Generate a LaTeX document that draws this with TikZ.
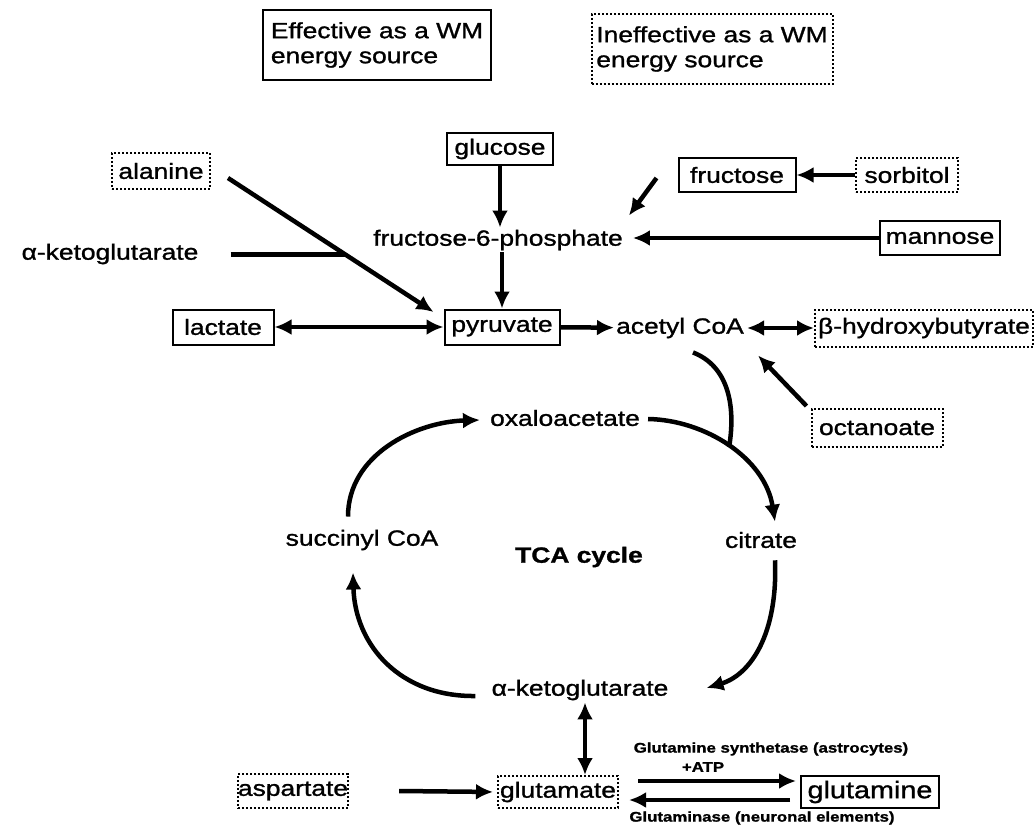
\documentclass[tikz,border=0pt]{standalone}
\usepackage{fontspec}
\setmainfont{Liberation Sans}[FakeStretch=1.2,FakeBold=1.2]
\usetikzlibrary{arrows.meta,calc}
\begin{document}
\begin{tikzpicture}[x=1pt,y=-1pt,
  txt/.style={font=\fontsize{22}{25}\selectfont, inner sep=2pt},
  sbox/.style={txt, draw, line width=2pt, inner sep=0pt},
  dbox/.style={sbox, dash pattern=on 2pt off 2pt},
  small/.style={font=\fontsize{14}{16}\selectfont\bfseries, inner sep=1pt},
  ln/.style={line width=4.5pt},
  arr/.style={line width=4.5pt, -{Latex[length=17pt,width=16pt]}},
  darr/.style={line width=4.5pt, {Latex[length=17pt,width=16pt]}-{Latex[length=17pt,width=16pt]}}]
\useasboundingbox (0,0) rectangle (1036,829);

% legend
\node[sbox, minimum width=228pt, minimum height=70pt, align=left] (leg1) at (377,45) {Effective as a WM\\energy source};
\node[dbox, minimum width=241pt, minimum height=70pt, align=left] (leg2) at (712,49) {Ineffective as a WM\\energy source};

% nodes
\node[sbox, minimum width=106pt, minimum height=32pt] (glucose) at (500,149) {glucose};
\node[dbox, minimum width=98pt, minimum height=36pt] (alanine) at (161,171) {alanine};
\node[sbox, minimum width=117pt, minimum height=34pt] (fructose) at (737,175) {fructose};
\node[dbox, minimum width=102pt, minimum height=34pt] (sorbitol) at (907,175) {sorbitol};
\node[txt] (f6p) at (498,240) {fructose-6-phosphate};
\node[sbox, minimum width=120pt, minimum height=33pt] (mannose) at (940,238) {mannose};
\node[txt] (akgL) at (110,254) {α-ketoglutarate};
\node[sbox, minimum width=101pt, minimum height=35pt] (lactate) at (223,327) {lactate};
\node[sbox, minimum width=115pt, minimum height=35pt] (pyruvate) at (502,327) {pyruvate};
\node[txt] (acetyl) at (680,328) {acetyl CoA};
\node[dbox, minimum width=218pt, minimum height=37pt] (bhb) at (924,328) {β-hydroxybutyrate};
\node[dbox, minimum width=131pt, minimum height=38pt] (octanoate) at (877,428) {octanoate};
\node[txt] (oxalo) at (565,418) {oxaloacetate};
\node[txt] (succ) at (362,540) {succinyl CoA};
\node[txt, font=\fontsize{22}{25}\selectfont\bfseries] (tca) at (579,557) {TCA cycle};
\node[txt] (citrate) at (761,540) {citrate};
\node[txt] (akg2) at (580,690) {α-ketoglutarate};
\node[dbox, minimum width=107pt, minimum height=34pt] (aspartate) at (293,791) {aspartate};
\node[dbox, minimum width=120pt, minimum height=32pt] (glutamate) at (558,792) {glutamate};
\node[sbox, minimum width=138pt, minimum height=32pt, font=\fontsize{24}{27}\selectfont] (glutamine) at (870,792) {glutamine};
\node[small] (gs) at (771,749) {Glutamine synthetase (astrocytes)};
\node[small] (atp) at (703,767) {+ATP};
\node[small] (gase) at (762,818) {Glutaminase (neuronal elements)};

% glycolysis inputs
\draw[arr] (glucose) -- (glucose |- f6p.north);
\draw[arr] (f6p.south -| pyruvate) -- (pyruvate);
\draw[arr] ($(fructose.west)+(-21,3)$) -- ($(f6p.north east)+(4,-12)$);
\draw[arr] (sorbitol.west) -- (fructose.east);
\draw[arr, shorten >=8pt] (mannose.west) -- (mannose.west -| f6p.east);
\coordinate (ala1) at ($(alanine.east)+(17,7)$);
\coordinate (ala2) at ($(pyruvate.west)+(-10,-15)$);
\draw[arr] (ala1) -- (ala2);
\coordinate (j) at ($(ala1)!0.57!(ala2)$);
\draw[ln] ([xshift=30pt]akgL.east |- j) -- (j);
\draw[darr] (lactate) -- (pyruvate);
\draw[arr] (pyruvate) -- (acetyl);
\draw[darr, shorten <=1pt] (acetyl) -- (bhb);
\draw[arr] ($(octanoate.north west)+(-4,-2)$) -- ($(acetyl.south east)+(12,15)$);

% TCA cycle
\draw[arr] ($(oxalo.east)+(6,1)$) .. controls (705,420) and (765,458) .. coordinate[pos=0.5] (cj) ($(citrate.north)+(14,-8)$);
\draw[ln] ($(acetyl.south)+(13,12)$) .. controls (728,366) and (736,405) .. (cj);
\draw[arr] ($(citrate.south)+(14,10)$) .. controls (778,635) and (750,675) .. ($(akg2.east)+(36,-2)$);
\draw[arr] ($(akg2.west)+(-14,6)$) .. controls (400,697) and (355,645) .. ($(succ.south)+(-9,20)$);
\draw[arr] ($(succ.north)+(-14,-11)$) .. controls (348,455) and (415,422) .. ($(oxalo.west)+(-8,2)$);

% glutamate
\draw[darr] ([xshift=5pt]akg2.south) -- ([xshift=5pt]akg2.south |- glutamate.north);
\draw[arr, shorten >=4pt] ($(aspartate.east)+(50,0)$) -- (glutamate.west);
\coordinate (u1) at ($(glutamate.east)+(19,-11)$);
\coordinate (u2) at ($(glutamine.west)+(-4,-11)$);
\draw[arr] (u1) -- (u2);
\coordinate (l1) at ($(glutamine.west)+(-10,8)$);
\coordinate (l2) at ($(glutamate.east)+(10,8)$);
\draw[arr] (l1) -- (l2);
\end{tikzpicture}
\end{document}
